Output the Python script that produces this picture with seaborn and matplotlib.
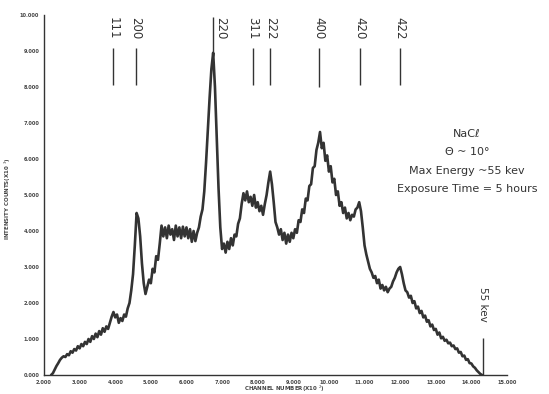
import numpy as np
import pandas as pd
import matplotlib
matplotlib.use("Agg")
import matplotlib.pyplot as plt
import seaborn as sns

# ---- data ----
counts = [
    0.00, 0.05, 0.15, 0.25, 0.33, 0.42, 0.48, 0.52, 0.50, 0.58,   # 2.20
    0.55, 0.66, 0.62, 0.72, 0.68, 0.80, 0.74, 0.86, 0.80, 0.92,   # 2.70
    0.86, 1.00, 0.92, 1.08, 1.00, 1.15, 1.05, 1.22, 1.12, 1.30,   # 3.20
    1.20, 1.35, 1.28, 1.45, 1.62, 1.75, 1.60, 1.68, 1.45, 1.58,   # 3.70
    1.50, 1.68, 1.62, 1.85, 2.00, 2.35, 2.80, 3.60, 4.50, 4.35,   # 4.20
    3.85, 3.10, 2.55, 2.25, 2.45, 2.65, 2.55, 2.95, 2.85, 3.30,   # 4.70
    3.20, 3.65, 4.15, 3.85, 4.10, 3.80, 4.15, 3.90, 4.05, 3.75,   # 5.20
    4.15, 3.85, 4.10, 3.80, 4.12, 3.85, 4.10, 3.80, 4.05, 3.70,   # 5.70
    4.00, 3.72, 3.95, 4.10, 4.40, 4.60, 5.10, 5.90, 6.80, 7.70,   # 6.20
    8.50, 8.95, 8.00, 6.60, 5.20, 4.10, 3.50, 3.65, 3.40, 3.70,   # 6.70
    3.50, 3.80, 3.60, 3.90, 3.85, 4.20, 4.35, 4.75, 5.05, 4.85,   # 7.20
    5.10, 4.80, 4.95, 4.70, 5.00, 4.65, 4.80, 4.55, 4.70, 4.45,   # 7.70
    4.75, 5.00, 5.35, 5.65, 5.30, 4.80, 4.25, 4.10, 3.90, 4.05,   # 8.20
    3.75, 3.95, 3.65, 3.90, 3.70, 3.95, 3.80, 4.05, 3.95, 4.30,   # 8.70
    4.25, 4.60, 4.50, 4.90, 4.85, 5.25, 5.30, 5.75, 5.80, 6.25,   # 9.20
    6.45, 6.75, 6.30, 6.45, 5.95, 6.10, 5.65, 5.80, 5.35, 5.45,   # 9.70
    5.00, 5.10, 4.70, 4.80, 4.50, 4.65, 4.35, 4.50, 4.30, 4.45,   # 10.20
    4.40, 4.60, 4.65, 4.80, 4.55, 4.10, 3.60, 3.35, 3.15, 2.95,   # 10.70
    2.85, 2.70, 2.75, 2.55, 2.65, 2.40, 2.50, 2.35, 2.45, 2.30,   # 11.20
    2.40, 2.45, 2.60, 2.70, 2.85, 2.95, 3.00, 2.80, 2.55, 2.35,   # 11.70
    2.30, 2.15, 2.20, 2.00, 2.05, 1.85, 1.90, 1.72, 1.78, 1.60,   # 12.20
    1.65, 1.48, 1.52, 1.35, 1.40, 1.25, 1.28, 1.12, 1.18, 1.02,   # 12.70
    1.06, 0.95, 0.98, 0.88, 0.90, 0.80, 0.82, 0.72, 0.74, 0.62,   # 13.20
    0.64, 0.52, 0.54, 0.42, 0.44, 0.33, 0.32, 0.24, 0.20, 0.13,   # 13.70
    0.08, 0.03, 0.00,                                             # 14.20
]
channel = np.round(2.20 + 0.05 * np.arange(len(counts)), 2)

peak_labels = ["111", "200", "220", "311", "222", "400", "420", "422"]
peak_channels = [3.94, 4.58, 6.74, 7.87, 8.35, 9.72, 10.88, 12.00]

cutoff_channel = 14.34
x_ticks = list(range(2, 16))
y_ticks = list(range(0, 11))

annotation_lines = ["NaCℓ", "Θ ~ 10°", "Max Energy ~55 kev", "Exposure Time = 5 hours"]

# ---- figure ----
sns.set_style("white")
plt.rcParams['font.family'] = ['DejaVu Sans']

fig = plt.figure(figsize=(5.49, 3.94), dpi=100)
ax = fig.add_axes([44 / 549, 1 - 375 / 394, 463 / 549, 360 / 394])

df = pd.DataFrame({"channel": channel, "counts": counts})
ink = "#333333"
sns.lineplot(data=df, x="channel", y="counts", ax=ax, color=ink, linewidth=1.9)

ax.set_xlim(2, 15)
ax.set_ylim(0, 10)
ax.set_xticks(x_ticks)
ax.set_yticks(y_ticks)
ax.set_xticklabels([f"{v:.3f}" for v in x_ticks], fontsize=3.6, color="#444444", fontweight="bold")
ax.set_yticklabels([f"{v:.3f}" for v in y_ticks], fontsize=3.6, color="#444444", fontweight="bold")
ax.tick_params(axis="both", direction="inout", length=3, width=0.8, color=ink, pad=2)
for s in ["top", "right"]:
    ax.spines[s].set_visible(False)
for s in ["left", "bottom"]:
    ax.spines[s].set_color(ink)
    ax.spines[s].set_linewidth(1.0)

ax.set_xlabel("CHANNEL NUMBER(X10 $^{2}$)", fontsize=4.0, color="#444444", fontweight="bold")
ax.xaxis.set_label_coords(0.52, -0.025, transform=ax.transAxes)
ax.xaxis.label.set_va("top")
ax.set_ylabel("INTENSITY COUNTS(X10 $^{3}$)", fontsize=4.0, color="#444444", fontweight="bold")
ax.yaxis.set_label_coords(-0.066, 0.49)

# peak index markers
for lab, pc in zip(peak_labels, peak_channels):
    if lab == "220":
        ax.vlines(pc, 8.9, 9.95, color=ink, linewidth=1.0)
        ax.text(pc + 0.05, 9.95, lab, rotation=-90, ha="left", va="top", fontsize=8.5, color=ink)
    else:
        lo = 8.0 if lab == "400" else 8.06
        ax.vlines(pc, lo, 9.08, color=ink, linewidth=1.0)
        ax.text(pc, 9.95, lab, rotation=-90, ha="center", va="top", fontsize=8.5, color=ink)

# cutoff marker
ax.vlines(cutoff_channel, 0, 1.03, color=ink, linewidth=1.0)
ax.text(cutoff_channel, 1.97, "55 kev", rotation=-90, ha="center", va="center", fontsize=7.5, color=ink)

# annotation block
ys = [6.69, 6.19, 5.67, 5.17]
for txt, yv in zip(annotation_lines, ys):
    ax.text(13.88, yv, txt, ha="center", va="center", fontsize=8.0, color=ink)

fig.savefig("out.png", dpi=100, facecolor="white")
